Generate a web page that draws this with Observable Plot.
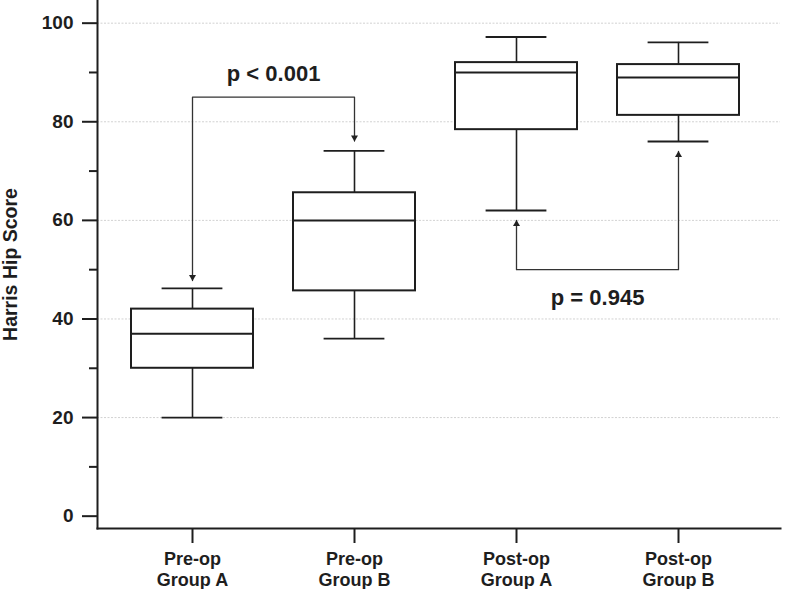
<!DOCTYPE html>
<html><head><meta charset="utf-8">
<script src="https://cdn.jsdelivr.net/npm/d3@7"></script>
<script src="https://cdn.jsdelivr.net/npm/@observablehq/plot@0.6"></script>
<style>
body{margin:0;background:#fff;}
#chart svg{font-family:"Liberation Sans",Arial,sans-serif;}
</style>
</head><body><div id="chart"></div>
<script>
// ---- data ----
const categories = ["Pre-op\nGroup A", "Pre-op\nGroup B", "Post-op\nGroup A", "Post-op\nGroup B"];
const whiskerLow  = [20, 36, 62, 76];
const quartile1   = [30, 45.7, 78.4, 81.3];
const medians     = [37, 60, 90, 89];
const quartile3   = [42, 65.6, 92, 91.6];
const whiskerHigh = [46.2, 74.1, 97.2, 96.1];
const yTicks = [0, 20, 40, 60, 80, 100];
const yMinorTicks = [10, 30, 50, 70, 90];
const gridValues = [20, 40, 60, 80, 100];
const yTitle = "Harris Hip Score";

// comparisons (brackets)
const bracketLabels = ["p < 0.001", "p = 0.945"];
const bracketFrom = [0, 2];          // category index at start
const bracketTo = [1, 3];            // category index at end
const bracketLevel = [85, 50];       // horizontal bracket level
const bracketFromTip = [47.8, 60.0]; // arrow tip value at start
const bracketToTip = [76.1, 74.0];   // arrow tip value at end
const bracketLabelY = [88.2, 42.9];  // label baseline value

// ---- tables ----
const stats = categories.map((c, i) => ({cat: c, lo: whiskerLow[i], q1: quartile1[i], med: medians[i], q3: quartile3[i], hi: whiskerHigh[i]}));
const bracketPath = [];
const arrowsDown = [], arrowsUp = [];
bracketLabels.forEach((lab, i) => {
  const a = categories[bracketFrom[i]], b = categories[bracketTo[i]];
  bracketPath.push({k: i, x: a, y: bracketFromTip[i]}, {k: i, x: a, y: bracketLevel[i]}, {k: i, x: b, y: bracketLevel[i]}, {k: i, x: b, y: bracketToTip[i]});
  const tips = [{x: a, y: bracketFromTip[i]}, {x: b, y: bracketToTip[i]}];
  tips.forEach(t => (t.y < bracketLevel[i] ? arrowsDown : arrowsUp).push(t));
});
const labelRows = bracketLabels.map((lab, i) => ({x: categories[bracketFrom[i]], y: bracketLabelY[i], text: lab}));

const x0 = 131, x1 = 740, padIn = 0.245;
const step = (x1 - x0) / (categories.length - padIn);
const ink = "#1e1e1e";

const plot = Plot.plot({
  width: 787, height: 589,
  marginLeft: 97, marginRight: 7, marginTop: 0, marginBottom: 61,
  style: {fontFamily: "'Liberation Sans', Arial, sans-serif", fontWeight: "bold", color: ink, background: "#fff"},
  x: {type: "band", domain: categories, range: [x0, x1], paddingInner: padIn, paddingOuter: 0, align: 0},
  y: {domain: [-2.5, 104.6]},
  marks: [
    Plot.ruleY(gridValues, {stroke: "#d2d2d2", strokeDasharray: "2,1.5", strokeWidth: 1}),
    Plot.frame({anchor: "left", stroke: ink, strokeWidth: 2}),
    Plot.frame({anchor: "bottom", stroke: ink, strokeWidth: 2}),
    Plot.axisY({ticks: yTicks, tickSize: 15, tickPadding: 9, fontSize: 19, strokeWidth: 2, stroke: ink, fill: ink, label: null}),
    Plot.axisY({ticks: yMinorTicks, tickSize: 8, tickFormat: () => "", strokeWidth: 2, stroke: ink, label: null}),
    Plot.axisX({tickSize: 15, tickPadding: 7, fontSize: 18, lineHeight: 1.15, strokeWidth: 2, stroke: ink, fill: ink, label: null}),
    Plot.text([yTitle], {frameAnchor: "left", textAnchor: "middle", rotate: -90, dx: -80.5, lineAnchor: "bottom", fontSize: 19.5, fontWeight: "bold", fill: ink}),
    // whiskers
    Plot.ruleX(stats, {x: "cat", y1: "lo", y2: "q1", stroke: ink, strokeWidth: 1.6}),
    Plot.ruleX(stats, {x: "cat", y1: "q3", y2: "hi", stroke: ink, strokeWidth: 1.6}),
    Plot.tickY(stats, {x: "cat", y: "lo", insetLeft: 30.6, insetRight: 30.6, stroke: ink, strokeWidth: 1.8}),
    Plot.tickY(stats, {x: "cat", y: "hi", insetLeft: 30.6, insetRight: 30.6, stroke: ink, strokeWidth: 1.8}),
    // boxes
    Plot.barY(stats, {x: "cat", y1: "q1", y2: "q3", fill: "white", stroke: ink, strokeWidth: 2}),
    Plot.tickY(stats, {x: "cat", y: "med", stroke: ink, strokeWidth: 2}),
    // brackets
    Plot.line(bracketPath, {x: "x", y: "y", z: "k", stroke: "#333", strokeWidth: 1.3}),
    Plot.dot(arrowsDown, {x: "x", y: "y", symbol: "triangle", rotate: 180, r: 2.6, dy: -3.6, fill: "#222", stroke: "none"}),
    Plot.dot(arrowsUp, {x: "x", y: "y", symbol: "triangle", r: 2.6, dy: 3.6, fill: "#222", stroke: "none"}),
    Plot.text(labelRows, {x: "x", y: "y", text: "text", dx: step / 2, lineAnchor: "bottom", fontSize: 22, fontWeight: "bold", fill: ink})
  ]
});
document.getElementById("chart").appendChild(plot);
</script>
</body></html>
